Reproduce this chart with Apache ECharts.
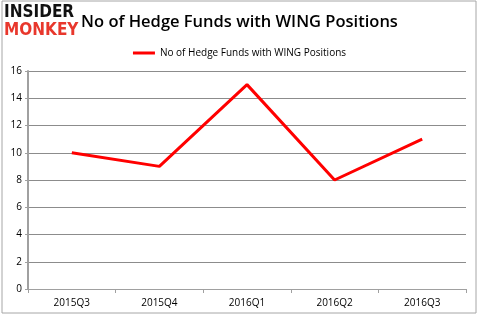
<!DOCTYPE html>
<html><head><meta charset="utf-8">
<script src="https://cdn.jsdelivr.net/npm/echarts@6/dist/echarts.min.js"></script>
<style>html,body{margin:0;padding:0;background:#fff}#c{width:479px;height:317px}</style>
</head><body><div id="c"></div>
<script>
const categories = ['2015Q3','2015Q4','2016Q1','2016Q2','2016Q3'];
const values = [10, 9, 15, 8, 11];
const seriesName = 'No of Hedge Funds with WING Positions';
const yTicks = [0,2,4,6,8,10,12,14,16];

const chart = echarts.init(document.getElementById('c'), null, {renderer:'canvas'});
chart.setOption({
  animation:false,
  backgroundColor:'#fff',
  title:{text:'No of Hedge Funds with WING Positions',left:'center',top:9,
    textStyle:{fontFamily:'Open Sans',fontSize:16.5,fontWeight:600,color:'#000'}},
  legend:{top:43,left:'center',itemWidth:22,itemHeight:3,icon:'rect',
    textStyle:{fontFamily:'Open Sans',fontSize:10,color:'#000'},itemGap:2,
    data:[seriesName]},
  grid:{left:28,right:13,top:71,bottom:28},
  xAxis:{type:'category',data:categories,boundaryGap:true,
    axisLine:{lineStyle:{color:'#a0a0a0',width:1}},
    axisTick:{show:true,alignWithLabel:false,lineStyle:{color:'#a0a0a0'},length:4},
    axisLabel:{fontFamily:'Open Sans',fontSize:10,color:'#000',margin:9}},
  yAxis:{type:'value',min:0,max:16,interval:2,
    axisLine:{show:true,lineStyle:{color:'#a0a0a0',width:2}},
    axisTick:{show:true,length:3,lineStyle:{color:'#a0a0a0'}},
    splitLine:{lineStyle:{color:'#8c8c8c',width:1}},
    axisLabel:{fontFamily:'Open Sans',fontSize:10,color:'#000',margin:6}},
  series:[{name:seriesName,type:'line',data:values,symbol:'none',
    lineStyle:{color:'#ff0000',width:3},itemStyle:{color:'#ff0000'}}],
  graphic:[
    {type:'rect',shape:{x:2,y:1,width:474,height:312},style:{fill:'none',stroke:'#a6a6a6',lineWidth:1},z:-1},
    {type:'text',left:4,top:4,z:11,style:{text:'INSIDER',font:'bold 17px "DejaVu Sans Condensed"',fill:'#111'}},
    {type:'text',left:4,top:22,z:11,style:{text:'MONKEY',font:'bold 17px "DejaVu Sans Condensed"',fill:'#e8372c'}}
  ]
});
</script></body></html>
